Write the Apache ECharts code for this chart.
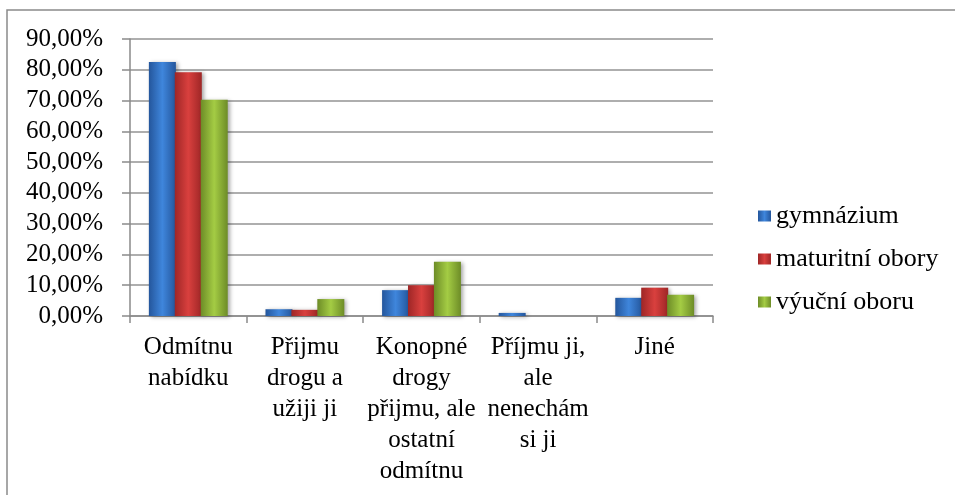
<!DOCTYPE html>
<html>
<head>
<meta charset="utf-8">
<script src="https://cdn.jsdelivr.net/npm/echarts@6/dist/echarts.min.js"></script>
<style>
  html, body { margin: 0; padding: 0; background: #fff; }
  #chart { width: 955px; height: 495px; }
</style>
</head>
<body>
<div id="chart"></div>
<script>
var categories = [
  'Odmítnu\nnabídku',
  'Přijmu\ndrogu a\nužiji ji',
  'Konopné\ndrogy\npřijmu, ale\nostatní\nodmítnu',
  'Příjmu ji,\nale\nnenechám\nsi ji',
  'Jiné'
];
var gymnazium = [82.5, 2.2, 8.4, 1.0, 5.9];
var maturitni = [79.2, 2.0, 10.0, 0, 9.2];
var vyucni = [70.3, 5.5, 17.6, 0, 6.9];
var yTicks = [0, 10, 20, 30, 40, 50, 60, 70, 80, 90];

var font = '"Liberation Serif", "Times New Roman", serif';

function grad(edge, mid) {
  return new echarts.graphic.LinearGradient(0, 0, 1, 0, [
    { offset: 0, color: edge },
    { offset: 0.5, color: mid },
    { offset: 1, color: edge }
  ]);
}

function barSeries(name, data, edge, mid) {
  return {
    name: name,
    type: 'bar',
    // zero values are left as empty bars so no sliver is drawn
    data: data.map(function (v) { return v === 0 ? '-' : v; }),
    barWidth: 27,
    barGap: '-4%',
    itemStyle: {
      color: grad(edge, mid),
      shadowColor: 'rgba(0,0,0,0.35)',
      shadowBlur: 4,
      shadowOffsetX: 2,
      shadowOffsetY: 1
    }
  };
}

var chart = echarts.init(document.getElementById('chart'), null, { renderer: 'canvas' });

var option = {
  animation: false,
  color: ['#3a78c8', '#d03a3a', '#9cc23e'],
  graphic: [{
    type: 'rect',
    shape: { x: 7, y: 10, width: 1000, height: 600 },
    style: { fill: 'none', stroke: '#8a8a8a', lineWidth: 1.5 },
    silent: true
  }],
  grid: { left: 130, top: 39, width: 583, height: 277 },
  legend: {
    orient: 'vertical',
    left: 753,
    top: 198,
    itemWidth: 13,
    itemHeight: 11,
    itemGap: 17,
    icon: 'rect',
    textStyle: { fontFamily: font, fontSize: 26, color: '#000' },
    data: ['gymnázium', 'maturitní obory', 'výuční oboru']
  },
  xAxis: {
    type: 'category',
    data: categories,
    axisLine: { lineStyle: { color: '#8a8a8a', width: 1.5 } },
    axisTick: { show: true, length: 7, lineStyle: { color: '#8a8a8a', width: 1.5 } },
    axisLabel: {
      interval: 0,
      margin: 16,
      fontFamily: font,
      fontSize: 25,
      lineHeight: 31,
      color: '#000'
    }
  },
  yAxis: {
    type: 'value',
    min: yTicks[0],
    max: yTicks[yTicks.length - 1],
    interval: 10,
    axisLine: { show: true, lineStyle: { color: '#8a8a8a', width: 1.5 } },
    axisTick: { show: true, length: 8, lineStyle: { color: '#8a8a8a', width: 1.5 } },
    splitLine: { lineStyle: { color: '#939393', width: 1.5 } },
    axisLabel: {
      margin: 27,
      fontFamily: font,
      fontSize: 25,
      color: '#000',
      formatter: function (v) { return v.toFixed(2).replace('.', ',') + '%'; }
    }
  },
  series: [
    barSeries('gymnázium', gymnazium, '#24569c', '#3f86dc'),
    barSeries('maturitní obory', maturitni, '#9e2626', '#d9403e'),
    barSeries('výuční oboru', vyucni, '#6d8c27', '#a4cc44')
  ]
};

chart.setOption(option);
</script>
</body>
</html>
